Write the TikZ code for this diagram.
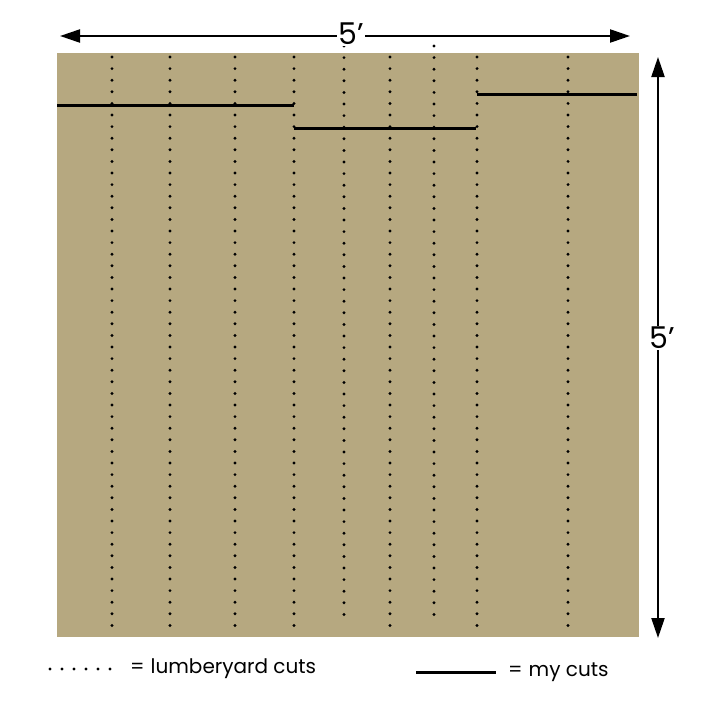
\documentclass[tikz,border=0pt]{standalone}
\usepackage{fontspec}
\setmainfont{Poppins}
\usetikzlibrary{arrows.meta}
\definecolor{board}{RGB}{182,168,128}
\tikzset{
  cutline/.style={line width=3pt, black},
  dimarrow/.style={line width=2.2pt, {Triangle[length=20pt,width=13pt]}-{Triangle[length=20pt,width=13pt]}},
  dimlabel/.style={fill=white, inner sep=1pt, font=\fontsize{30}{30}\selectfont},
  legendtext/.style={anchor=west, inner sep=0pt, font=\fontsize{20}{20}\selectfont},
  dotmark/.style={black, radius=1.6pt}
}
\begin{document}
\begin{tikzpicture}[x=1pt,y=-1pt]
\useasboundingbox (0,0) rectangle (710,710);
% board
\fill[board] (57,53) rectangle (639,637);
% lumberyard cuts (dotted)
\foreach \x in {112,170,235,294,390,477,568}{
  \foreach \k in {0,...,49}{
    \fill[dotmark] (\x,{57+11.6*\k}) circle;
  }
}
\foreach \x in {344,434}{
  \foreach \k in {0,...,49}{
    \fill[dotmark] (\x,{46+11.6*\k}) circle;
  }
}
% my cuts
\coordinate (c1a) at (57,105); \coordinate (c1b) at (294,105);
\coordinate (c2a) at (294,128); \coordinate (c2b) at (476,128);
\coordinate (c3a) at (477,94);  \coordinate (c3b) at (637,94);
\draw[cutline] (c1a) -- (c1b);
\draw[cutline] (c2a) -- (c2b);
\draw[cutline] (c3a) -- (c3b);
% dimension arrows
\coordinate (hl) at (60,36); \coordinate (hr) at (630,36);
\draw[dimarrow] (hl) -- (hr);
\node[dimlabel] (htop) at (351,34) {5’};
\coordinate (vt) at (658,57); \coordinate (vb) at (658,638);
\draw[dimarrow] (vt) -- (vb);
\node[dimlabel] (vlab) at (662,338) {5’};
% legend
\foreach \k in {0,...,5}{
  \fill[dotmark] ({50+12*\k},669) circle;
}
\node[legendtext] (lt1) at (130,669) {=\hspace{6pt}lumberyard cuts};
\coordinate (la) at (416,672); \coordinate (lb) at (496,672);
\draw[cutline] (la) -- (lb);
\node[legendtext] (lt2) at (508,672) {=\hspace{6pt}my cuts};
\end{tikzpicture}
\end{document}
